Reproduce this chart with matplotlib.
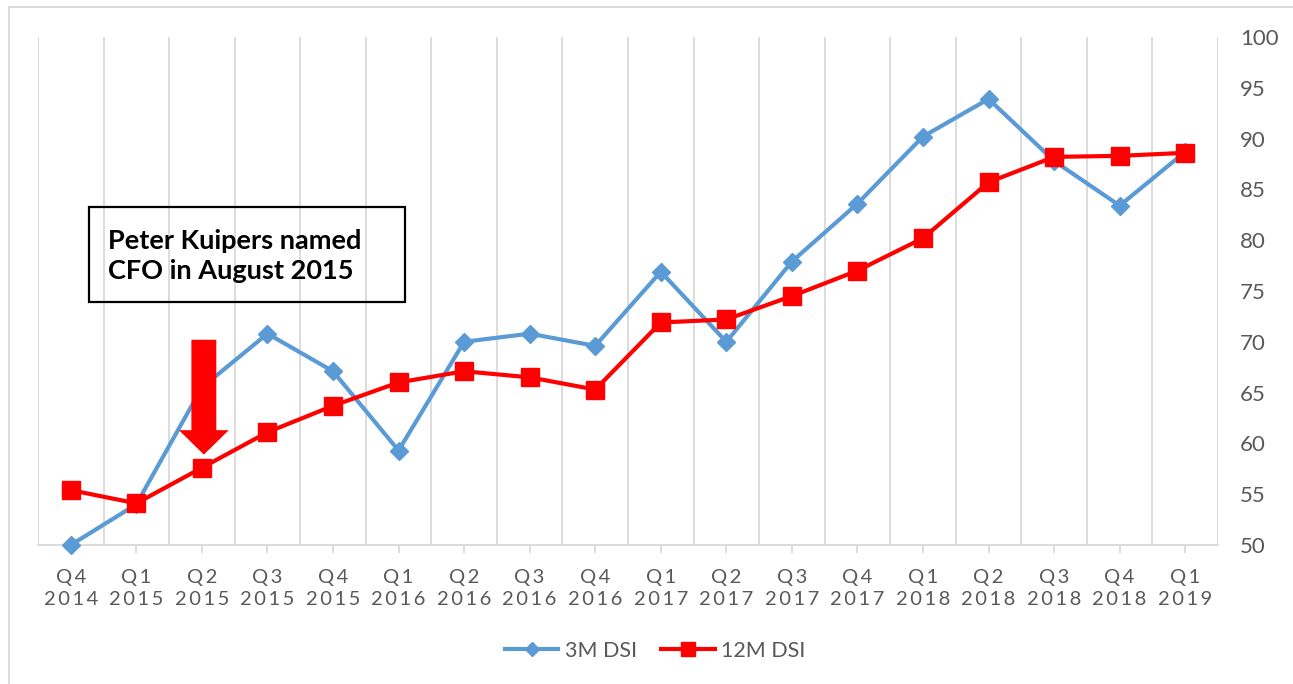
import matplotlib.pyplot as plt
from matplotlib.patches import FancyArrow, Rectangle
from matplotlib.lines import Line2D

plt.rcParams['font.family'] = ['Lato', 'DejaVu Sans']

# data
quarters = ['Q4', 'Q1', 'Q2', 'Q3', 'Q4', 'Q1', 'Q2', 'Q3', 'Q4',
            'Q1', 'Q2', 'Q3', 'Q4', 'Q1', 'Q2', 'Q3', 'Q4', 'Q1']
years = ['2014', '2015', '2015', '2015', '2015', '2016', '2016', '2016', '2016',
         '2017', '2017', '2017', '2017', '2018', '2018', '2018', '2018', '2019']
dsi_3m = [50.0, 54.0, 65.5, 70.8, 67.1, 59.3, 70.0, 70.8, 69.6,
          76.9, 70.0, 77.9, 83.6, 90.2, 93.9, 87.8, 83.4, 88.7]
dsi_12m = [55.4, 54.1, 57.6, 61.1, 63.7, 66.0, 67.1, 66.5, 65.3,
           71.9, 72.2, 74.5, 77.0, 80.2, 85.7, 88.2, 88.3, 88.6]

BLUE = '#5B9BD5'
RED = '#FF0000'
GRID = '#D9D9D9'
TXT = '#595959'

W, H = 1293, 684
fig = plt.figure(figsize=(W / 100, H / 100), dpi=100)
ax = fig.add_axes([38 / W, 1 - 545 / H, (1218 - 38) / W, (545 - 37) / H])

x = list(range(len(quarters)))
ax.plot(x, dsi_3m, color=BLUE, lw=3, marker='D', ms=9.5, zorder=3, clip_on=False)
ax.plot(x, dsi_12m, color=RED, lw=3, marker='s', ms=13, zorder=4, clip_on=False)

ax.set_xlim(-0.5, len(quarters) - 0.5)
ax.set_ylim(50, 100)

# vertical gridlines at category boundaries
for b in range(len(quarters) + 1):
    ax.axvline(b - 0.5, color=GRID, lw=1.3, zorder=0)

for s in ['top', 'left', 'right']:
    ax.spines[s].set_visible(False)
ax.spines['bottom'].set_color(GRID)
ax.spines['bottom'].set_linewidth(1.3)

spaced = lambda s: '\u2009'.join(s)
ax.set_xticks(x)
ax.set_xticklabels([spaced(q) + '\n' + spaced(y) for q, y in zip(quarters, years)],
                   fontsize=14.5, color=TXT, linespacing=1.4)
ax.tick_params(axis='x', length=6, color=GRID, width=1.3, pad=11)

ax.yaxis.tick_right()
ax.set_yticks(range(50, 101, 5))
ax.tick_params(axis='y', length=0, labelsize=16, labelcolor=TXT)
for lbl in ax.get_yticklabels():
    lbl.set_horizontalalignment('left')
ax.tick_params(axis='y', pad=16)

# red block arrow marking Q2 2015
arrow = FancyArrow(2.03, 70.2, 0, -11.3, width=0.38, head_width=0.76,
                   head_length=2.4, length_includes_head=True,
                   color=RED, lw=0, zorder=5)
ax.add_patch(arrow)

# annotation box
fig.patches.append(Rectangle((89 / W, 1 - 302 / H), (405 - 89) / W, (302 - 207) / H,
                             transform=fig.transFigure, fill=False,
                             edgecolor='black', lw=1.6, zorder=6))
fig.text(108 / W, 1 - 256 / H, 'Peter Kuipers named\nCFO in August 2015',
         fontsize=19.5, fontweight='bold', color='black', va='center', ha='left',
         linespacing=1.3)

# outer chart border
fig.patches.append(Rectangle((9 / W, -0.1), 1.2, 1 - 7 / H + 0.1,
                             transform=fig.transFigure, fill=False,
                             edgecolor=GRID, lw=1.3))

handles = [Line2D([], [], color=BLUE, lw=3, marker='D', ms=7.5),
           Line2D([], [], color=RED, lw=3, marker='s', ms=10)]
fig.legend(handles, ['3M DSI', '12M DSI'], loc='center', ncol=2,
           bbox_to_anchor=(655 / W, 1 - 651 / H), frameon=False,
           fontsize=15.5, labelcolor=TXT, handlelength=2.5, handletextpad=0.3,
           columnspacing=1.1)

fig.savefig('out.png', dpi=100, facecolor='white')
